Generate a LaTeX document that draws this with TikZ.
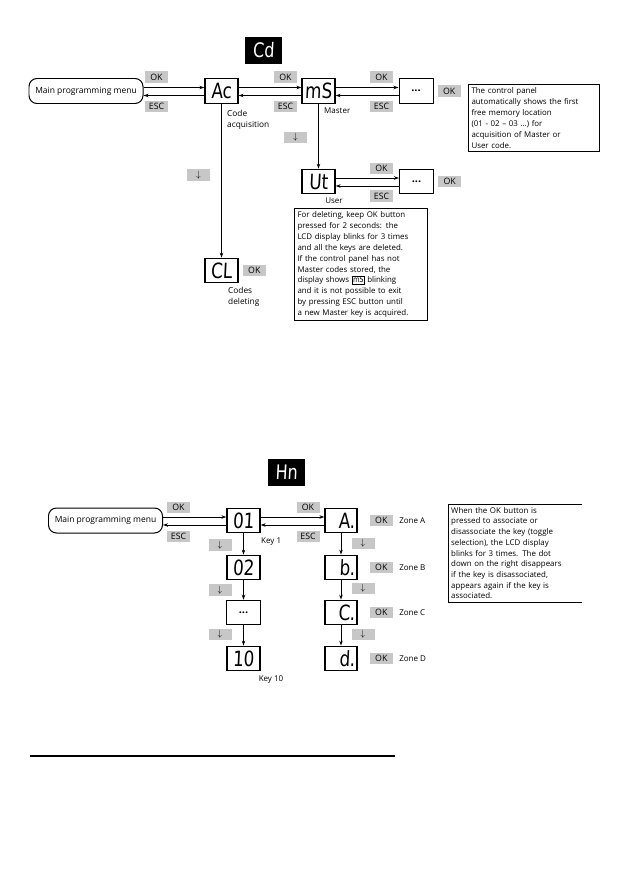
\documentclass[tikz,border=0pt]{standalone}
\usepackage{fontspec}
\setmainfont{Open Sans}
\newfontfamily\lcdfont[FakeStretch=0.8,FakeSlant=0.05]{DejaVu Sans}
\usetikzlibrary{arrows.meta,positioning}
\tikzset{
  lcdbox/.style={draw=black, line width=1.3pt, rectangle, minimum width=33bp, minimum height=24.5bp, inner sep=0pt, font=\lcdfont\fontsize{21bp}{21bp}\selectfont},
  zonebox/.style={lcdbox, minimum width=32bp, text width=28bp, align=right, inner xsep=2bp},
  lcdtitle/.style={fill=black, text=white, rectangle, minimum width=37bp, minimum height=27bp, inner sep=0pt, font=\lcdfont\fontsize{20bp}{20bp}\selectfont},
  menubox/.style={draw=black, line width=1pt, rounded corners=8bp, minimum width=114bp, minimum height=25bp, font=\fontsize{8.5bp}{10bp}\selectfont},
  dotbox/.style={draw=black, line width=1pt, rectangle, minimum width=34bp, minimum height=24.5bp, inner sep=0pt, font=\bfseries\fontsize{11bp}{11bp}\selectfont},
  keytag/.style={fill=black!22, minimum width=23bp, minimum height=11.5bp, inner sep=0pt, font=\fontsize{8.8bp}{9bp}\selectfont},
  notebox/.style={draw=black, line width=1pt, align=left, inner sep=3bp, font=\fontsize{7.9bp}{10.9bp}\selectfont},
  caption/.style={align=left, inner sep=0pt, font=\fontsize{8.3bp}{11bp}\selectfont},
  smallcap/.style={inner sep=0pt, font=\fontsize{8bp}{9bp}\selectfont},
  signal/.style={->, line width=0.9pt, draw=black, >={Stealth[length=5bp,width=3.5bp]}}
}

\begin{document}
\begin{tikzpicture}[x=1bp, y=-1bp]
  \useasboundingbox (0,0) rectangle (630,893);

  % key acquisition
  \node[lcdtitle] (cd) at (263.5,50.5) {Cd};
  \node[menubox] (menua) at (86,91) {Main programming menu};
  \node[lcdbox] (ac) at (221.5,91) {Ac};
  \node[lcdbox] (ms) at (318.5,91) {mS};
  \node[dotbox] (dotsa) at (416,91) {...};
  \node[keytag] (oka) at (156.5,77) {OK};
  \node[keytag] (esca) at (156.5,106.5) {ESC};
  \node[keytag] (okb) at (285.5,77) {OK};
  \node[keytag] (escb) at (285.5,106.5) {ESC};
  \node[keytag] (okc) at (381.5,77) {OK};
  \node[keytag] (escc) at (381.5,106.5) {ESC};
  \node[keytag, right=4bp of dotsa] (okd) {OK};
  \node[notebox, anchor=north west, text width=125bp] (notea) at (468,84) {The control panel\\automatically shows the first\\free memory location\\(01 - 02 -- 03 \dots) for\\acquisition of Master or\\User code.};
  \node[caption, anchor=north west] (acqtxt) at (227,110) {Code\\acquisition};
  \node[smallcap, anchor=west] (mastertxt) at (324,111) {Master};

  \node[keytag] (downa) at (295.5,137.5) {$\downarrow$};
  \node[keytag] (downb) at (198.5,175) {$\downarrow$};
  \node[lcdbox] (ut) at (318.5,181.5) {Ut};
  \node[smallcap] (usertxt) at (334,201) {User};
  \node[dotbox] (dotsb) at (416.5,181.5) {...};
  \node[keytag] (oke) at (381.5,168.5) {OK};
  \node[keytag] (esce) at (381.5,196) {ESC};
  \node[keytag, right=4bp of dotsb] (okf) {OK};
  \node[notebox, anchor=north west, text width=127bp] (noteb) at (294,208) {For deleting, keep OK button\\pressed for 2 seconds: the\\LCD display blinks for 3 times\\and all the keys are deleted.\\If the control panel has not\\Master codes stored, the\\display shows {\setlength\fboxsep{0.5bp}\setlength\fboxrule{0.8bp}\fbox{\lcdfont\fontsize{8bp}{8bp}\selectfont mS}} blinking\\and it is not possible to exit\\by pressing ESC button until\\a new Master key is acquired.};
  \node[lcdbox] (cl) at (221.5,270.5) {CL};
  \node[keytag, right=4bp of cl] (okg) {OK};
  \node[caption, anchor=north west] (deltxt) at (228,287) {Codes\\deleting};

  \draw[signal] ([yshift=3.5bp]menua.east) -- ([yshift=3.5bp]ac.west);
  \draw[signal] ([yshift=-4.5bp]ac.west) -- ([yshift=-4.5bp]menua.east);
  \draw[signal] ([yshift=3.5bp]ac.east) -- ([yshift=3.5bp]ms.west);
  \draw[signal] ([yshift=-4.5bp]ms.west) -- ([yshift=-4.5bp]ac.east);
  \draw[signal] ([yshift=3.5bp]ms.east) -- ([yshift=3.5bp]dotsa.west);
  \draw[signal] ([yshift=-4.5bp]dotsa.west) -- ([yshift=-4.5bp]ms.east);
  \draw[signal] ([yshift=3.5bp]ut.east) -- ([yshift=3.5bp]dotsb.west);
  \draw[signal] ([yshift=-4.5bp]dotsb.west) -- ([yshift=-4.5bp]ut.east);
  \draw[signal] (ac.south) -- (cl.north);
  \draw[signal] (ms.south) -- (ut.north);

  % zone association
  \node[lcdtitle] (hn) at (286.5,472) {Hn};
  \node[menubox] (menub) at (105.5,520.5) {Main programming menu};
  \node[lcdbox] (keya) at (243.5,520.5) {01};
  \node[lcdbox] (keyb) at (243.5,567.5) {02};
  \node[dotbox] (keydots) at (243.5,612.5) {...};
  \node[lcdbox] (keyc) at (243.5,658.5) {10};
  \node[keytag] (okh) at (178.5,507.5) {OK};
  \node[keytag] (esch) at (178.5,536.5) {ESC};
  \node[keytag] (oki) at (308,507.5) {OK};
  \node[keytag] (esci) at (308,536.5) {ESC};
  \node[keytag] (downc) at (220,545) {$\downarrow$};
  \node[keytag] (downd) at (220,590) {$\downarrow$};
  \node[keytag] (downe) at (220,634.5) {$\downarrow$};
  \node[smallcap, anchor=west] (keyonetxt) at (261,542) {Key 1};
  \node[smallcap] (keytentxt) at (271,680) {Key 10};

  \node[zonebox] (zonea) at (341,520.5) {A\kern-0.5bp.};
  \node[zonebox] (zoneb) at (341,567.5) {b\kern-0.5bp.};
  \node[zonebox] (zonec) at (341,612.5) {C\kern-0.5bp.};
  \node[zonebox] (zoned) at (341,658.5) {d\kern-0.5bp.};
  \node[keytag, right=12bp of zonea] (okza) {OK};
  \node[keytag, right=12bp of zoneb] (okzb) {OK};
  \node[keytag, right=12bp of zonec] (okzc) {OK};
  \node[keytag, right=12bp of zoned] (okzd) {OK};
  \node[smallcap, right=6bp of okza] (zatxt) {Zone A};
  \node[smallcap, right=6bp of okzb] (zbtxt) {Zone B};
  \node[smallcap, right=6bp of okzc] (zctxt) {Zone C};
  \node[smallcap, right=6bp of okzd] (zdtxt) {Zone D};
  \node[keytag] (downf) at (363,543.5) {$\downarrow$};
  \node[keytag] (downg) at (363,588.5) {$\downarrow$};
  \node[keytag] (downh) at (363,634.5) {$\downarrow$};

  \node[align=left, inner sep=3bp, anchor=north west, text width=128bp, font=\fontsize{7.9bp}{10.7bp}\selectfont] (notec) at (448,504) {When the OK button is\\pressed to associate or\\disassociate the key (toggle\\selection), the LCD display\\blinks for 3 times. The dot\\down on the right disappears\\if the key is disassociated,\\appears again if the key is\\associated.};
  \draw[line width=1pt] (notec.north east) -- (notec.north west) -- (notec.south west) -- (notec.south east);

  \draw[signal] ([yshift=3.5bp]menub.east) -- ([yshift=3.5bp]keya.west);
  \draw[signal] ([yshift=-4.5bp]keya.west) -- ([yshift=-4.5bp]menub.east);
  \draw[signal] ([yshift=3.5bp]keya.east) -- ([yshift=3.5bp]zonea.west);
  \draw[signal] ([yshift=-4.5bp]zonea.west) -- ([yshift=-4.5bp]keya.east);
  \draw[signal] (keya.south) -- (keyb.north);
  \draw[signal] (keyb.south) -- (keydots.north);
  \draw[signal] (keydots.south) -- (keyc.north);
  \draw[signal] (zonea.south) -- (zoneb.north);
  \draw[signal] (zoneb.south) -- (zonec.north);
  \draw[signal] (zonec.south) -- (zoned.north);

  \draw[line width=1.1pt] (30,756) -- (395,756);
\end{tikzpicture}
\end{document}
